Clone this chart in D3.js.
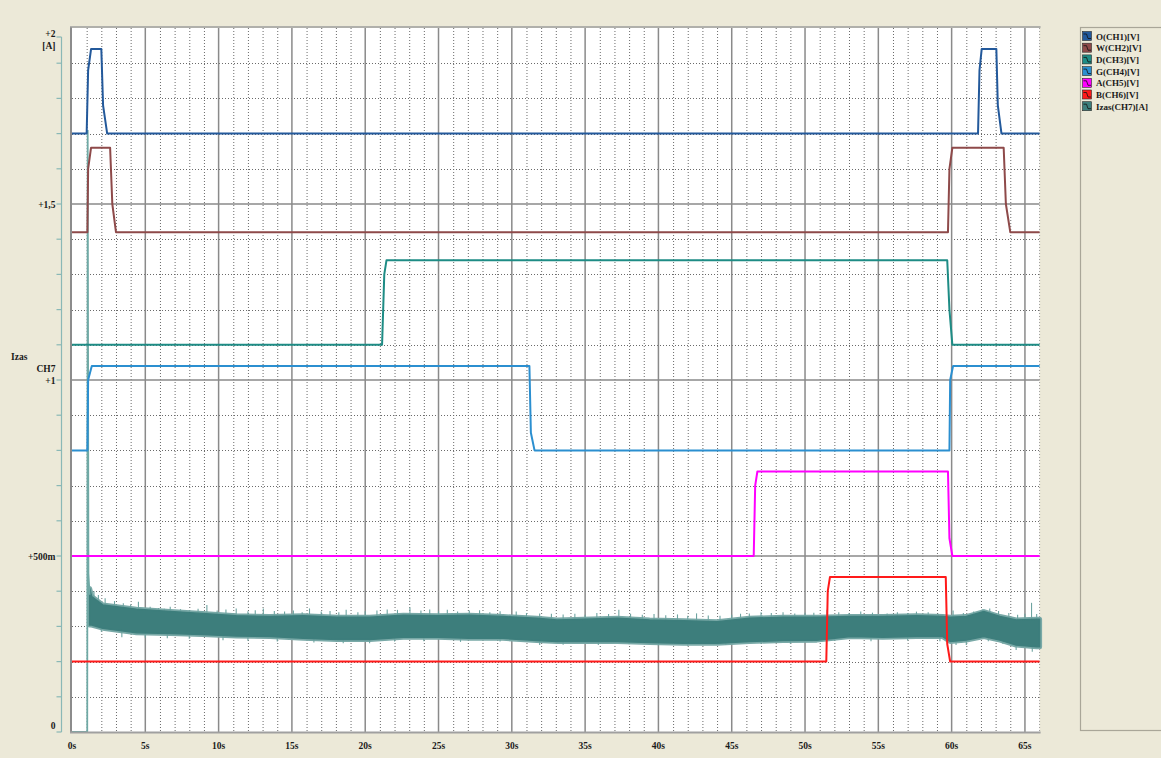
<!DOCTYPE html>
<html><head><meta charset="utf-8">
<script src="https://cdn.jsdelivr.net/npm/d3@7"></script>
<style>html,body{margin:0;padding:0;background:#ECE9D8;}svg{display:block;}</style>
</head><body>
<svg id="c" width="1161" height="758"></svg>
<script>
// ---------- data ----------
const legendLabels = ["O(CH1)[V]","W(CH2)[V]","D(CH3)[V]","G(CH4)[V]","A(CH5)[V]","B(CH6)[V]","Izas(CH7)[A]"];
const seriesColors = ["#23599b","#8e4a4a","#1e8c85","#2b8fd0","#ff00ff","#ff1a1a","#3d7e7c"];
const xTickLabels = ["0s","5s","10s","15s","20s","25s","30s","35s","40s","45s","50s","55s","60s","65s"];
const xTickValues = [0,5,10,15,20,25,30,35,40,45,50,55,60,65];
const yTickLabels = ["0","+500m","+1","+1,5","+2"];
const yTickValues = [0,0.5,1,1.5,2];

const ch1T = [0,1.0,1.1,1.3,2.0,2.12,2.4,61.8,61.9,62.05,63.05,63.15,63.4,66];
const ch1V = [1.70,1.70,1.88,1.94,1.94,1.78,1.70,1.70,1.88,1.94,1.94,1.78,1.70,1.70];
const ch2T = [0,1.05,1.1,1.3,2.6,2.75,3.0,59.75,59.85,60.05,63.55,63.7,64.0,66];
const ch2V = [1.42,1.42,1.60,1.66,1.66,1.50,1.42,1.42,1.60,1.66,1.66,1.50,1.42,1.42];
const ch3T = [0,21.15,21.3,21.45,59.7,59.85,60.05,66];
const ch3V = [1.10,1.10,1.30,1.34,1.34,1.20,1.10,1.10];
const ch4T = [0,1.05,1.1,1.35,31.2,31.3,31.55,59.85,59.9,60.1,66];
const ch4V = [0.80,0.80,1.00,1.04,1.04,0.85,0.80,0.80,1.00,1.04,1.04];
const ch5T = [0,46.5,46.6,46.75,59.75,59.85,60.05,66];
const ch5V = [0.50,0.50,0.70,0.74,0.74,0.55,0.50,0.50];
const ch6T = [0,51.45,51.55,51.7,59.6,59.7,59.9,66];
const ch6V = [0.20,0.20,0.40,0.44,0.44,0.25,0.20,0.20];

// Izas (CH7) start-up spike
const izasStartT = [0,1.04,1.07,1.12,1.2];
const izasStartV = [0,0,1.71,0.45,0.39];
// Izas noise band envelopes
const izasT =     [1.2,1.34,2.1,4.4,6.7,8.9,11.2,13.5,15.8,18.1,20.3,22.6,24.9,27.1,29.4,31.7,33.1,34.9,37.2,39.4,41.7,44.0,46.2,48.5,50.8,53.1,55.3,57.6,59.4,59.9,61.0,62.2,63.3,64.4,65.8,66];
const izasUpper = [0.408,0.385,0.361,0.349,0.342,0.337,0.330,0.328,0.330,0.326,0.326,0.332,0.330,0.332,0.328,0.323,0.318,0.320,0.323,0.318,0.316,0.313,0.323,0.326,0.326,0.328,0.328,0.330,0.328,0.326,0.328,0.342,0.328,0.318,0.320,0.320];
const izasLower = [0.304,0.304,0.295,0.282,0.280,0.277,0.273,0.271,0.266,0.263,0.263,0.269,0.269,0.266,0.266,0.260,0.257,0.257,0.257,0.254,0.252,0.252,0.257,0.260,0.261,0.271,0.269,0.271,0.271,0.257,0.261,0.271,0.261,0.247,0.242,0.242];
// spikes of the noise band (time, tip value)
const spikeUpT = [1.5,1.8,2.26,2.9,3.5,4.0,4.53,5.33,5.9,6.3,6.7,7.4,8.0,8.6,9.2,9.9,10.5,11.2,12.0,12.5,13.05,13.8,14.5,15.1,15.7,16.2,17.0,17.6,18.2,18.7,19.5,20.0,20.8,21.5,22.2,23.05,23.8,24.4,25.0,25.6,26.3,27.1,27.8,28.5,29.2,30.3,31.0,31.9,32.7,33.5,34.3,35.0,35.8,36.6,37.3,38.1,38.9,39.7,40.5,41.3,42.0,42.6,43.4,44.2,45.0,45.6,46.2,47.0,47.7,48.5,49.3,50.0,50.6,51.5,52.3,53.0,53.8,54.6,55.6,56.3,57.0,57.6,58.4,59.1,60.1,60.8,61.5,62.1,62.6,63.2,63.9,64.5,65.0,65.45,65.8];
const spikeUpV = [0.400,0.389,0.380,0.372,0.366,0.362,0.370,0.356,0.352,0.350,0.356,0.349,0.346,0.350,0.361,0.345,0.348,0.351,0.343,0.346,0.351,0.344,0.342,0.345,0.340,0.351,0.342,0.344,0.340,0.347,0.340,0.343,0.345,0.348,0.347,0.354,0.345,0.348,0.343,0.347,0.342,0.345,0.346,0.340,0.343,0.342,0.338,0.337,0.336,0.334,0.336,0.333,0.338,0.335,0.347,0.336,0.333,0.335,0.332,0.334,0.330,0.337,0.331,0.330,0.333,0.336,0.337,0.340,0.338,0.340,0.337,0.339,0.339,0.347,0.340,0.338,0.342,0.339,0.337,0.340,0.338,0.342,0.340,0.336,0.345,0.338,0.342,0.348,0.351,0.344,0.338,0.333,0.336,0.367,0.335];
const spikeDnT = [2.0,3.4,5.0,6.5,8.0,10.3,12.0,14.0,16.5,18.5,20.3,22.0,24.0,26.5,29.2,31.9,33.5,35.9,38.0,40.0,42.0,44.6,47.0,49.0,52.0,54.5,57.0,59.2,60.3,61.0,62.5,63.5,64.4,65.5];
const spikeDnV = [0.285,0.269,0.268,0.266,0.265,0.261,0.259,0.257,0.254,0.252,0.252,0.257,0.258,0.256,0.257,0.247,0.248,0.247,0.249,0.246,0.245,0.247,0.250,0.251,0.259,0.258,0.260,0.258,0.247,0.247,0.258,0.250,0.233,0.228];

// ---------- layout ----------
const svg = d3.select("#c");
const W = 1161, H = 758;
const x = d3.scaleLinear().domain([0,66]).range([72,1039.6]);
const y = d3.scaleLinear().domain([0,2]).range([732,28]);
const font = "'Liberation Serif','Times New Roman',serif";

svg.append("rect").attr("width",W).attr("height",H).attr("fill","#ECE9D8");

// plot panel
svg.append("rect").attr("x",x(0)).attr("y",y(2)).attr("width",x(66)-x(0)).attr("height",y(0)-y(2)).attr("fill","#ffffff");

// grid minor
const g = svg.append("g");
d3.range(1,66).filter(d=>d%5!==0).forEach(d=>{
  g.append("line").attr("x1",x(d)+0.5).attr("x2",x(d)+0.5).attr("y1",y(2)).attr("y2",y(0))
   .attr("stroke","#6a6a6a").attr("stroke-width",1).attr("stroke-dasharray","1,2");
});
d3.range(1,20).filter(d=>d%5!==0).forEach(d=>{
  const yy = Math.round(y(d/10))+0.5;
  g.append("line").attr("x1",x(0)).attr("x2",x(66)).attr("y1",yy).attr("y2",yy)
   .attr("stroke","#6a6a6a").attr("stroke-width",1).attr("stroke-dasharray","1,2");
});
// grid major
xTickValues.filter(d=>d>0).forEach(d=>{
  g.append("line").attr("x1",x(d)).attr("x2",x(d)).attr("y1",y(2)).attr("y2",y(0))
   .attr("stroke","#8a8a8a").attr("stroke-width",1.5);
});
[0.5,1,1.5].forEach(d=>{
  g.append("line").attr("x1",x(0)).attr("x2",x(66)).attr("y1",y(d)).attr("y2",y(d))
   .attr("stroke","#8a8a8a").attr("stroke-width",1.5);
});
g.append("line").attr("x1",x(66)).attr("x2",x(66)).attr("y1",y(2)).attr("y2",y(0))
   .attr("stroke","#9a9a9a").attr("stroke-width",1).attr("stroke-dasharray","1,2");

// ---------- series ----------
const line = d3.line().x(d=>x(d[0])).y(d=>y(d[1]));
const zip = (t,v)=>t.map((d,i)=>[d,v[i]]);

// CH7 band
const bandData = izasT.map((d,i)=>[d,izasLower[i],izasUpper[i]]);
const band = d3.area().x(d=>x(d[0])).y0(d=>y(d[1])).y1(d=>y(d[2]));
// lighter fringe
svg.append("path").datum(bandData).attr("d",band).attr("fill","#6f a09e".replace(" ",""))
  .attr("stroke","#79a9a7").attr("stroke-width",5).attr("stroke-linejoin","round");
const upAt = t => d3.scaleLinear().domain(izasT).range(izasUpper)(t);
const loAt = t => d3.scaleLinear().domain(izasT).range(izasLower)(t);
const spikes = svg.append("g").attr("stroke","#6ea4a1").attr("stroke-width",1.1);
spikeUpT.forEach((t,i)=>spikes.append("line").attr("x1",x(t)).attr("x2",x(t)).attr("y1",y(upAt(t))).attr("y2",y(spikeUpV[i])));
spikeDnT.forEach((t,i)=>spikes.append("line").attr("x1",x(t)).attr("x2",x(t)).attr("y1",y(loAt(t))).attr("y2",y(spikeDnV[i])));
// dark body
svg.append("path").datum(bandData).attr("d",band).attr("fill",seriesColors[6])
  .attr("stroke",seriesColors[6]).attr("stroke-width",1.5);
svg.append("path").datum(zip(izasStartT,izasStartV)).attr("d",line)
  .attr("fill","none").attr("stroke","#6fa9a5").attr("stroke-width",1.8);

const chans = [[ch6T,ch6V,5],[ch5T,ch5V,4],[ch4T,ch4V,3],[ch3T,ch3V,2],[ch2T,ch2V,1],[ch1T,ch1V,0]];
chans.forEach(([t,v,ci])=>{
  svg.append("path").datum(zip(t,v)).attr("d",line)
    .attr("fill","none").attr("stroke",seriesColors[ci]).attr("stroke-width",2)
    .attr("stroke-linejoin","round");
});

// plot frame (sunken)
svg.append("line").attr("x1",x(0)-1).attr("x2",x(0)-1).attr("y1",y(2)-1).attr("y2",y(0)+1).attr("stroke","#8c8c8c").attr("stroke-width",2);
svg.append("line").attr("x1",x(0)-2).attr("x2",x(66)+1).attr("y1",y(2)-1).attr("y2",y(2)-1).attr("stroke","#9c9c9c").attr("stroke-width",1.5);
svg.append("line").attr("x1",x(0)-2).attr("x2",x(66)+1).attr("y1",y(0)+0.5).attr("y2",y(0)+0.5).attr("stroke","#a0a0a0").attr("stroke-width",2);

// ---------- Y axis ----------
const ax = svg.append("g");
const axX = 61.5;
ax.append("line").attr("x1",axX).attr("x2",axX).attr("y1",37).attr("y2",y(0)).attr("stroke","#8ab8b6").attr("stroke-width",1.2);
ax.append("line").attr("x1",axX-5).attr("x2",axX).attr("y1",37).attr("y2",37).attr("stroke","#8ab8b6").attr("stroke-width",1.2);
d3.range(0,20).forEach(d=>{
  const yy = y(d/10);
  ax.append("line").attr("x1",axX-5).attr("x2",axX).attr("y1",yy).attr("y2",yy).attr("stroke","#8ab8b6").attr("stroke-width",1.2);
});
const yLab = (txt,xx,yy,anchor="end")=>ax.append("text").attr("x",xx).attr("y",yy).attr("text-anchor",anchor)
  .attr("font-family",font).attr("font-weight","bold").attr("font-size",9.5).attr("fill","#1a1a1a").text(txt);
yTickValues.forEach((v,i)=>{
  let yy = y(v)+3.5;
  if (v===2) yy = y(v)+9;
  if (v===0) yy = y(v)-3.5;
  yLab(yTickLabels[i],55.5,yy);
});
yLab("[A]",55.5,48.5);
yLab("CH7",55.5,371.5);
yLab("Izas",11,360,"start");

// ---------- X axis labels ----------
xTickValues.forEach((v,i)=>{
  svg.append("text").attr("x",x(v)).attr("y",748.5).attr("text-anchor","middle")
    .attr("font-family",font).attr("font-weight","bold").attr("font-size",9.5).attr("fill","#1a1a1a").text(xTickLabels[i]);
});

// ---------- legend ----------
const lg = svg.append("g");
lg.append("rect").attr("x",1080.5).attr("y",27.5).attr("width",90).attr("height",703).attr("fill","#ECE9D8")
  .attr("stroke","#a9a698").attr("stroke-width",1.2);
legendLabels.forEach((lab,i)=>{
  const yy = 31.5 + i*11.7;
  lg.append("rect").attr("x",1082.5).attr("y",yy).attr("width",9).attr("height",9)
    .attr("fill",seriesColors[i]).attr("stroke","#2a2a2a").attr("stroke-width",0.6);
  lg.append("path").attr("d",`M${1083.5},${yy+2.5} L${1086.5},${yy+2.5} L${1088},${yy+7} L${1091},${yy+7}`)
    .attr("fill","none").attr("stroke","#111").attr("stroke-width",0.8);
  lg.append("text").attr("x",1096).attr("y",yy+8).attr("font-family",font).attr("font-weight","bold")
    .attr("font-size",9).attr("fill","#1a1a1a").text(lab);
});
</script>
</body></html>
